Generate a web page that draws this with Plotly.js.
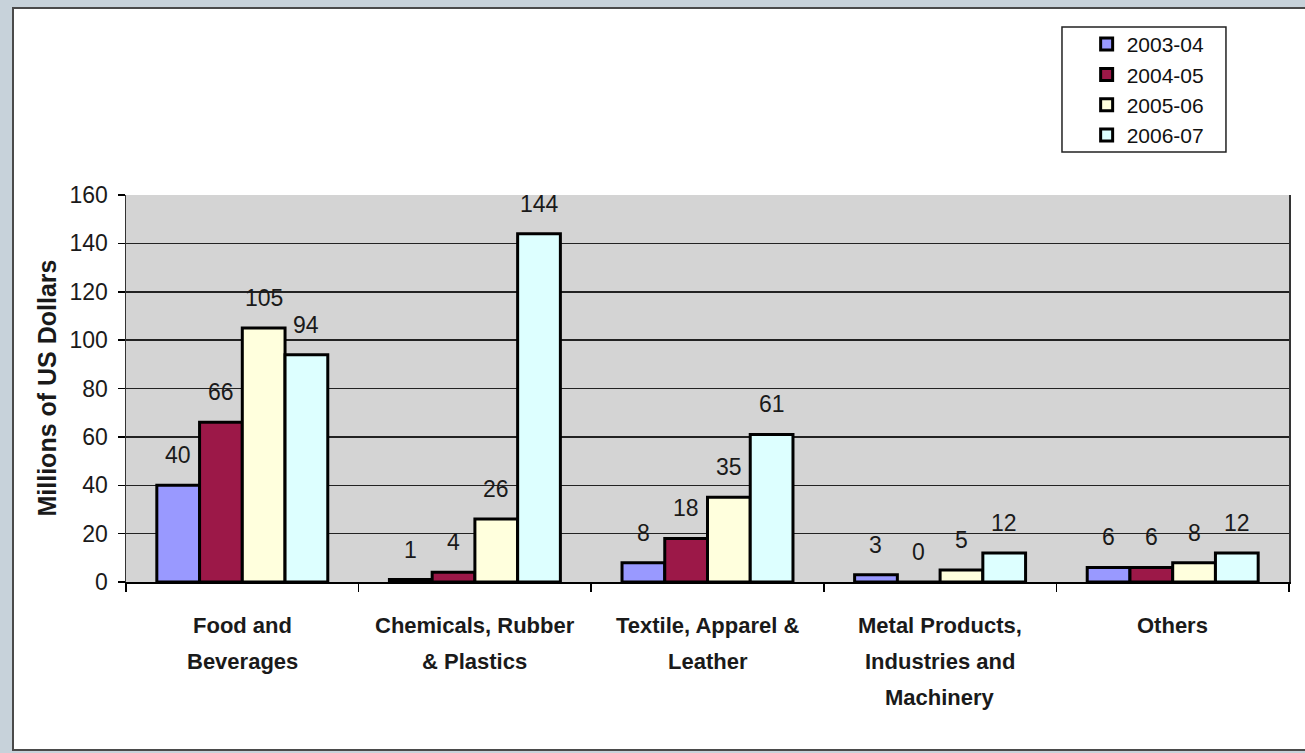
<!DOCTYPE html>
<html>
<head>
<meta charset="utf-8">
<script src="https://cdn.plot.ly/plotly-3.0.1.min.js"></script>
<style>
html,body{margin:0;padding:0;width:1305px;height:753px;overflow:hidden;background:#c7d2da;}
#panel{position:absolute;left:12px;top:7px;width:1300px;height:740px;background:#fff;border-left:2px solid #4a4a4a;border-top:2px solid #4a4a4a;border-bottom:2px solid #4a4a4a;}
#chart{position:absolute;left:0;top:0;width:1291px;height:740px;}
</style>
</head>
<body>
<div id="panel"><div id="chart"></div></div>
<script>
const categories = ["Food and\nBeverages", "Chemicals, Rubber\n& Plastics", "Textile, Apparel &\nLeather", "Metal Products,\nIndustries and\nMachinery", "Others"];
const seriesNames = ["2003-04", "2004-05", "2005-06", "2006-07"];
const v2003_04 = [40, 1, 8, 3, 6];
const v2004_05 = [66, 4, 18, 0, 6];
const v2005_06 = [105, 26, 35, 5, 8];
const v2006_07 = [94, 144, 61, 12, 12];
const seriesValues = [v2003_04, v2004_05, v2005_06, v2006_07];
const colors = ["#9999ff", "#9c1848", "#ffffdd", "#ddffff"];
const yTicks = [0, 20, 40, 60, 80, 100, 120, 140, 160];

const FONT = "Liberation Sans, Arial, sans-serif";
const catKeys = categories.map((c, i) => "c" + i);
const plotW = 1163, bargap = 0.265;
const barW = plotW / categories.length * (1 - bargap) / seriesValues.length;

const traces = seriesValues.map((vals, i) => ({
  type: "bar",
  name: seriesNames[i],
  x: catKeys,
  y: vals,
  marker: {color: colors[i], line: {color: "#000", width: 3}},
  hoverinfo: "none"
}));

const annotations = [];
// value labels above bars
seriesValues.forEach((vals, i) => {
  vals.forEach((v, c) => {
    annotations.push({
      x: catKeys[c], xref: "x", y: v, yref: "y",
      text: String(v), showarrow: false,
      xanchor: "center", yanchor: "middle",
      xshift: (i - (seriesValues.length - 1) / 2) * barW, yshift: 30,
      font: {family: FONT, size: 23, color: "#1a1a1a"}
    });
  });
});
// category labels
categories.forEach((c, i) => {
  c.split("\n").forEach((line, j) => {
    annotations.push({
      x: catKeys[i], xref: "x", y: 0, yref: "paper",
      text: "<b>" + line + "</b>", showarrow: false,
      xanchor: "center", yanchor: "middle", yshift: -43 - 36 * j,
      font: {family: FONT, size: 22, color: "#1a1a1a"}
    });
  });
});
annotations.push({
  x: -80 / plotW, xref: "paper", y: 0.5, yref: "paper",
  text: "<b>Millions of US Dollars</b>", textangle: -90, showarrow: false,
  xanchor: "center", yanchor: "middle",
  font: {family: FONT, size: 25, color: "#1a1a1a"}
});

const layout = {
  width: 1291, height: 740,
  margin: {l: 112, r: 16, t: 186, b: 167},
  paper_bgcolor: "#ffffff",
  plot_bgcolor: "#d4d4d4",
  bargap: bargap, bargroupgap: 0,
  showlegend: true,
  legend: {
    x: 0.826, y: 1.442, xanchor: "left", yanchor: "top",
    bgcolor: "rgba(0,0,0,0)", borderwidth: 0,
    font: {family: FONT, size: 21, color: "#111"},
    tracegroupgap: 0
  },
  xaxis: {
    type: "category", showticklabels: false,
    ticks: "outside", tickson: "boundaries", ticklen: 8, tickcolor: "#000", tickwidth: 1.5,
    showline: true, linecolor: "#000", linewidth: 2, showgrid: false, zeroline: false,
    fixedrange: true
  },
  yaxis: {
    range: [0, 160], tickvals: yTicks, ticktext: yTicks.map(String),
    ticks: "outside", ticklen: 7, tickcolor: "#000", tickwidth: 1.5,
    ticklabelstandoff: 5,
    tickfont: {family: FONT, size: 23, color: "#1a1a1a"},
    showline: true, linecolor: "#333", linewidth: 1.5, mirror: true,
    showgrid: true, gridcolor: "#222", gridwidth: 1.5, zeroline: false,
    fixedrange: true
  },
  shapes: [{
    type: "rect", xref: "paper", yref: "paper",
    x0: 0.8048, x1: 0.9458, y0: 1.1111, y1: 1.4341,
    line: {color: "#222", width: 1.5}, fillcolor: "rgba(0,0,0,0)"
  }],
  annotations: annotations
};

Plotly.newPlot("chart", traces, layout, {displayModeBar: false, staticPlot: true});
</script>
</body>
</html>
